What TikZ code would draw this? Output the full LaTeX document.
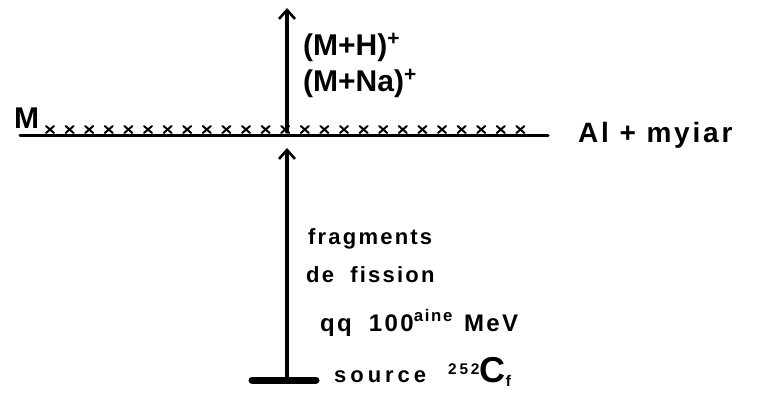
\documentclass[tikz,border=0pt]{standalone}
\usepackage{fontspec}
\setmainfont{Liberation Sans}
\usetikzlibrary{arrows.meta}
\begin{document}
\begin{tikzpicture}[x=1pt,y=-1pt, line cap=round,
  lbl/.style={inner sep=0pt, anchor=base west},
  big/.style={lbl, font=\fontsize{30}{32}\selectfont\bfseries},
  mid/.style={lbl, font=\fontsize{22}{24}\selectfont\bfseries\addfontfeatures{LetterSpace=10}},
  arr/.style={line width=3.2pt, -{Straight Barb[length=9pt,width=16pt,line width=2.6pt]}},
  xmark/.style={line width=2pt}]
\useasboundingbox (0,0) rectangle (759,405);
% target line
\coordinate (L) at (20,135);
\coordinate (R) at (548,135);
\draw[line width=3pt] (L) -- (R);
\foreach \i in {0,...,24}{
  \draw[xmark] ({50+\i*19.6-4},126) -- ++(8,7);
  \draw[xmark] ({50+\i*19.6+4},126) -- ++(-8,7);
}
\node[big] (m) at (14,128) {M};
\node[big, font=\fontsize{28}{30}\selectfont\bfseries\addfontfeatures{LetterSpace=10}] (al) at (578,142) {Al + myiar};
% upper arrow
\coordinate (ub) at (287,132);
\coordinate (ut) at (287,8);
\draw[arr] (ub) -- (ut);
\node[big] (mh) at (303,55) {(M+H)\textsuperscript{+}};
\node[big] (mna) at (303,91) {(M+Na)\textsuperscript{+}};
% source and lower arrow
\coordinate (s1) at (252,380);
\coordinate (s2) at (316,380);
\draw[line width=7pt] (s1) -- (s2);
\coordinate (sb) at (287,378);
\coordinate (st) at (287,148);
\draw[arr] (sb) -- (st);
\node[mid] (frag) at (308,244) {fragments};
\node[mid] (fis) at (306,282) {de\ \hspace{8pt}fission};
\node[mid, font=\fontsize{24}{26}\selectfont\bfseries\addfontfeatures{LetterSpace=10}] (mev) at (320,331) {qq\ \hspace{8pt}100\textsuperscript{aine}\ \hspace{2pt}MeV};
\node[mid, font=\fontsize{22}{24}\selectfont\bfseries\addfontfeatures{LetterSpace=18}] (src) at (334,382) {source\ \hspace{12pt}\textsuperscript{252}{\fontsize{36}{38}\selectfont C}\textsubscript{f}};
\end{tikzpicture}
\end{document}
